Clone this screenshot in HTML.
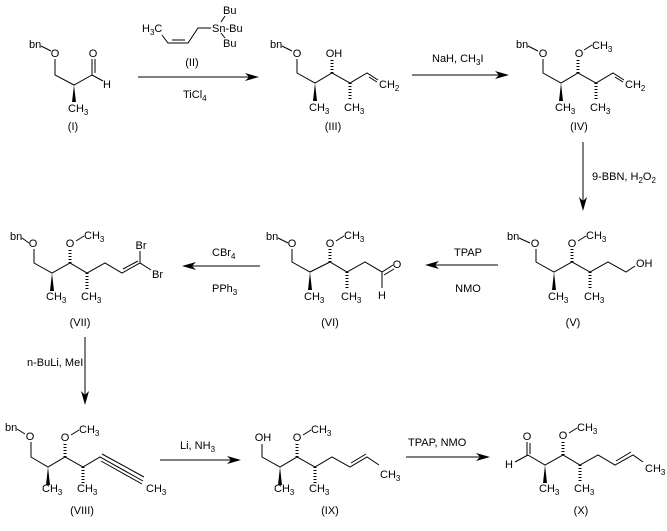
<!DOCTYPE html>
<html><head><meta charset="utf-8"><style>
html,body{margin:0;padding:0;background:#fff;}
svg{display:block;}
text{font-family:"Liberation Sans",sans-serif;font-size:11px;fill:#000;}
.s{font-size:8px;}
line,polyline{stroke:#000;stroke-width:1;fill:none;}
.h{stroke-width:3;stroke-dasharray:1,2;}
</style></head><body>
<svg width="667" height="531" viewBox="0 0 667 531" xmlns="http://www.w3.org/2000/svg">
<!-- I -->
<text x="29" y="48">bn</text>
<line x1="41" y1="46" x2="51" y2="51"/>
<text x="55" y="57" text-anchor="middle">O</text>
<polyline points="55,59 55,75 74,85 92,75"/>
<line x1="92" y1="75" x2="92" y2="59"/><line x1="95" y1="73" x2="95" y2="59"/>
<text x="93" y="57" text-anchor="middle">O</text>
<line x1="92" y1="75" x2="103" y2="81"/>
<text x="107" y="88" text-anchor="middle">H</text>
<polygon points="74,85 72,102 76,102"/>
<text x="68" y="112">CH<tspan class="s" dy="3">3</tspan></text>
<text x="73" y="130" text-anchor="middle">(I)</text>
<!-- II -->
<text x="142" y="32">H<tspan class="s" dy="3">3</tspan><tspan dy="-3">C</tspan></text>
<polyline points="162,35 168,43 188,43 198,28 211,28"/>
<line x1="172" y1="40" x2="185" y2="40"/>
<text x="212" y="32">Sn-Bu</text>
<text x="223" y="14">Bu</text>
<text x="223" y="47">Bu</text>
<line x1="221" y1="22" x2="225" y2="16"/><line x1="221" y1="33" x2="225" y2="38"/>
<text x="192" y="66" text-anchor="middle">(II)</text>
<!-- arrow1 -->
<line x1="138" y1="77" x2="250" y2="77"/>
<polygon points="259,77 245,73 249,77 245,81"/>
<text x="183" y="98">TiCl<tspan class="s" dy="3">4</tspan></text>
<!-- III -->
<text x="270" y="48">bn</text>
<line x1="282" y1="46" x2="292" y2="51"/>
<text x="297" y="57" text-anchor="middle">O</text>
<polyline points="297,59 297,73 315,83 332,73 350,83 367,73 378,80"/>
<line x1="369" y1="77" x2="377" y2="82"/>
<line class="h" x1="332" y1="73" x2="332" y2="59"/>
<text x="334" y="57" text-anchor="middle">OH</text>
<polygon points="315,83 313,101 317,101"/>
<text x="309" y="111">CH<tspan class="s" dy="3">3</tspan></text>
<line class="h" x1="350" y1="83" x2="350" y2="101"/>
<text x="344" y="111">CH<tspan class="s" dy="3">3</tspan></text>
<text x="379" y="88">CH<tspan class="s" dy="3">2</tspan></text>
<text x="333" y="130" text-anchor="middle">(III)</text>
<!-- arrow2 -->
<line x1="412" y1="75" x2="500" y2="75"/>
<polygon points="509,75 495,71 499,75 495,79"/>
<text x="432" y="62">NaH, CH<tspan class="s" dy="3">3</tspan><tspan dy="-3">I</tspan></text>
<!-- IV -->
<text x="516" y="48">bn</text>
<line x1="528" y1="46" x2="538" y2="51"/>
<text x="543" y="57" text-anchor="middle">O</text>
<polyline points="543,59 543,73 561,83 578,73 596,83 613,73 624,80"/>
<line x1="615" y1="77" x2="623" y2="82"/>
<line class="h" x1="578" y1="73" x2="578" y2="59"/>
<text x="579" y="57" text-anchor="middle">O</text>
<line x1="584" y1="50" x2="592" y2="45"/>
<text x="592" y="49">CH<tspan class="s" dy="3">3</tspan></text>
<polygon points="561,83 559,101 563,101"/>
<text x="555" y="111">CH<tspan class="s" dy="3">3</tspan></text>
<line class="h" x1="596" y1="83" x2="596" y2="101"/>
<text x="590" y="111">CH<tspan class="s" dy="3">3</tspan></text>
<text x="625" y="88">CH<tspan class="s" dy="3">2</tspan></text>
<text x="579" y="130" text-anchor="middle">(IV)</text>
<!-- arrow3 vertical -->
<line x1="583" y1="142" x2="583" y2="202"/>
<polygon points="583,211 579,197 583,201 587,197"/>
<text x="592" y="180">9-BBN, H<tspan class="s" dy="3">2</tspan><tspan dy="-3">O</tspan><tspan class="s" dy="3">2</tspan></text>
<!-- V -->
<text x="507" y="240">bn</text>
<line x1="519" y1="238" x2="530" y2="243"/>
<text x="535" y="247" text-anchor="middle">O</text>
<polyline points="536,249 536,262 554,272 572,262 590,272 608,262 626,272 635,266"/>
<line class="h" x1="572" y1="262" x2="572" y2="249"/>
<text x="572" y="247" text-anchor="middle">O</text>
<line x1="578" y1="241" x2="586" y2="236"/>
<text x="586" y="239">CH<tspan class="s" dy="3">3</tspan></text>
<text x="636" y="267">OH</text>
<polygon points="554,272 552,290 556,290"/>
<text x="548" y="300">CH<tspan class="s" dy="3">3</tspan></text>
<line class="h" x1="590" y1="272" x2="590" y2="290"/>
<text x="584" y="300">CH<tspan class="s" dy="3">3</tspan></text>
<text x="573" y="326" text-anchor="middle">(V)</text>
<!-- arrow V->VI -->
<line x1="498" y1="265" x2="434" y2="265"/>
<polygon points="425,265 439,261 435,265 439,269"/>
<text x="468" y="256" text-anchor="middle">TPAP</text>
<text x="468" y="292" text-anchor="middle">NMO</text>
<!-- VI -->
<text x="266" y="240">bn</text>
<line x1="278" y1="238" x2="288" y2="243"/>
<text x="292" y="247" text-anchor="middle">O</text>
<polyline points="292,249 292,262 310,272 330,262 347,272 365,262 382,272 393,265"/>
<line x1="384" y1="275" x2="394" y2="269"/>
<text x="397" y="268" text-anchor="middle">O</text>
<line x1="382" y1="272" x2="382" y2="288"/>
<text x="382" y="299" text-anchor="middle">H</text>
<line class="h" x1="330" y1="262" x2="330" y2="249"/>
<text x="330" y="247" text-anchor="middle">O</text>
<line x1="336" y1="241" x2="344" y2="236"/>
<text x="344" y="239">CH<tspan class="s" dy="3">3</tspan></text>
<polygon points="310,272 308,290 312,290"/>
<text x="304" y="300">CH<tspan class="s" dy="3">3</tspan></text>
<line class="h" x1="347" y1="272" x2="347" y2="290"/>
<text x="341" y="300">CH<tspan class="s" dy="3">3</tspan></text>
<text x="330" y="326" text-anchor="middle">(VI)</text>
<!-- arrow VI->VII -->
<line x1="260" y1="266" x2="191" y2="266"/>
<polygon points="182,266 196,262 192,266 196,270"/>
<text x="212" y="256">CBr<tspan class="s" dy="3">4</tspan></text>
<text x="212" y="292">PPh<tspan class="s" dy="3">3</tspan></text>
<!-- VII -->
<text x="10" y="240">bn</text>
<line x1="22" y1="238" x2="29" y2="243"/>
<text x="33" y="247" text-anchor="middle">O</text>
<polyline points="34,249 34,263 52,273 70,263 87,273 105,263 122,273 140,263 151,270"/>
<line x1="123" y1="269" x2="138" y2="261"/>
<line x1="140" y1="263" x2="140" y2="251"/>
<text x="141" y="249" text-anchor="middle">Br</text>
<text x="152" y="278">Br</text>
<line class="h" x1="70" y1="263" x2="70" y2="249"/>
<text x="70" y="247" text-anchor="middle">O</text>
<line x1="76" y1="241" x2="84" y2="236"/>
<text x="84" y="239">CH<tspan class="s" dy="3">3</tspan></text>
<polygon points="52,273 50,291 54,291"/>
<text x="46" y="300">CH<tspan class="s" dy="3">3</tspan></text>
<line class="h" x1="87" y1="273" x2="87" y2="291"/>
<text x="81" y="300">CH<tspan class="s" dy="3">3</tspan></text>
<text x="80" y="326" text-anchor="middle">(VII)</text>
<!-- arrow VII->VIII -->
<line x1="85" y1="337" x2="85" y2="396"/>
<polygon points="85,405 81,391 85,395 89,391"/>
<text x="27" y="366">n-BuLi, MeI</text>
<!-- VIII -->
<text x="5" y="431">bn</text>
<line x1="17" y1="429" x2="25" y2="434"/>
<text x="30" y="440" text-anchor="middle">O</text>
<polyline points="31,442 31,457 48,467 65,457 83,467 100,457 143,481"/>
<line x1="101" y1="461" x2="142" y2="484"/>
<line x1="102" y1="454" x2="144" y2="477"/>
<line class="h" x1="65" y1="457" x2="65" y2="443"/>
<text x="65" y="441" text-anchor="middle">O</text>
<line x1="71" y1="435" x2="79" y2="430"/>
<text x="79" y="433">CH<tspan class="s" dy="3">3</tspan></text>
<polygon points="48,467 46,485 50,485"/>
<text x="42" y="492">CH<tspan class="s" dy="3">3</tspan></text>
<line class="h" x1="83" y1="467" x2="83" y2="485"/>
<text x="77" y="492">CH<tspan class="s" dy="3">3</tspan></text>
<text x="146" y="492">CH<tspan class="s" dy="3">3</tspan></text>
<text x="82" y="514" text-anchor="middle">(VIII)</text>
<!-- arrow VIII->IX -->
<line x1="160" y1="460" x2="232" y2="460"/>
<polygon points="241,460 227,456 231,460 227,464"/>
<text x="180" y="449">Li, NH<tspan class="s" dy="3">3</tspan></text>
<!-- IX -->
<text x="263" y="441" text-anchor="middle">OH</text>
<polyline points="262,444 262,457 280,467 297,457 315,467 332,457 350,467 367,457 379,465"/>
<line x1="351" y1="463" x2="366" y2="454"/>
<line class="h" x1="297" y1="457" x2="297" y2="443"/>
<text x="297" y="441" text-anchor="middle">O</text>
<line x1="303" y1="435" x2="311" y2="430"/>
<text x="311" y="433">CH<tspan class="s" dy="3">3</tspan></text>
<polygon points="280,467 278,485 282,485"/>
<text x="274" y="492">CH<tspan class="s" dy="3">3</tspan></text>
<line class="h" x1="315" y1="467" x2="315" y2="485"/>
<text x="309" y="492">CH<tspan class="s" dy="3">3</tspan></text>
<text x="380" y="478">CH<tspan class="s" dy="3">3</tspan></text>
<text x="330" y="514" text-anchor="middle">(IX)</text>
<!-- arrow IX->X -->
<line x1="406" y1="457" x2="481" y2="457"/>
<polygon points="490,457 476,453 480,457 476,461"/>
<text x="408" y="446">TPAP, NMO</text>
<!-- X -->
<text x="527" y="440" text-anchor="middle">O</text>
<line x1="527" y1="442" x2="527" y2="455"/><line x1="530" y1="443" x2="530" y2="454"/>
<line x1="528" y1="455" x2="515" y2="462"/>
<text x="509" y="468" text-anchor="middle">H</text>
<polyline points="528,455 545,465 563,455 580,465 598,455 615,465 633,455 643,462"/>
<line x1="616" y1="461" x2="631" y2="452"/>
<line class="h" x1="563" y1="455" x2="563" y2="441"/>
<text x="563" y="439" text-anchor="middle">O</text>
<line x1="569" y1="433" x2="577" y2="428"/>
<text x="577" y="431">CH<tspan class="s" dy="3">3</tspan></text>
<polygon points="545,465 543,483 547,483"/>
<text x="539" y="492">CH<tspan class="s" dy="3">3</tspan></text>
<line class="h" x1="580" y1="465" x2="580" y2="483"/>
<text x="574" y="492">CH<tspan class="s" dy="3">3</tspan></text>
<text x="645" y="472">CH<tspan class="s" dy="3">3</tspan></text>
<text x="581" y="514" text-anchor="middle">(X)</text>
</svg>
</body></html>
